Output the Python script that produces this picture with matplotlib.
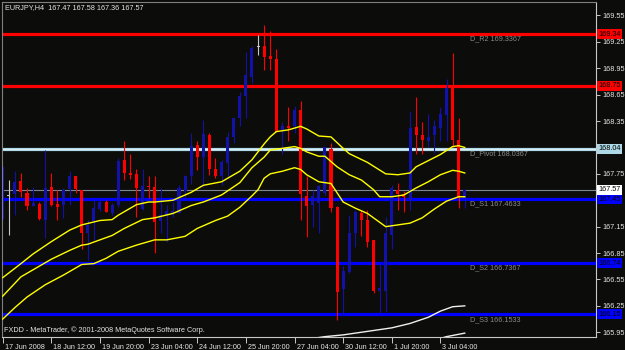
import numpy as np
import matplotlib
matplotlib.use('Agg')
import matplotlib.pyplot as plt
from matplotlib.transforms import ScaledTranslation, blended_transform_factory

plt.rcParams['font.family'] = ['Liberation Sans', 'DejaVu Sans']

# --- data (EURJPY H4) ---
opens = [167.26, 167.50, 167.52, 167.67, 167.53, 167.39, 167.41, 167.23, 167.60, 167.41,
         167.40, 167.58, 167.72, 167.57, 167.08, 167.21, 167.35, 167.43, 167.30, 167.40,
         167.91, 167.76, 167.75, 167.35, 167.61, 167.60, 167.21, 167.28, 167.31, 167.31,
         167.56, 167.72, 168.08, 167.94, 168.19, 167.81, 167.72, 167.87, 168.17, 168.38,
         168.63, 168.85, 169.19, 169.20, 169.09, 169.05, 168.25, 168.29, 168.29, 168.48,
         167.50, 167.40, 167.42, 167.53, 168.03, 167.37, 166.44, 166.64, 167.08, 167.30,
         167.23, 167.00, 166.42, 166.42, 167.06, 167.57, 167.52, 167.45, 168.28, 168.19,
         168.12, 168.19, 168.27, 168.42, 168.74, 168.13, 167.47]
highs = [167.84, 167.68, 167.78, 167.76, 167.59, 167.60, 167.43, 168.02, 167.76, 167.57,
         167.59, 167.78, 167.73, 167.57, 167.23, 167.45, 167.45, 167.45, 167.42, 167.93,
         168.12, 167.98, 167.81, 167.81, 167.73, 167.72, 167.59, 167.40, 167.43, 167.62,
         167.74, 168.21, 168.12, 168.36, 168.21, 167.93, 167.91, 168.23, 168.40, 168.68,
         169.14, 169.20, 169.33, 169.44, 169.37, 169.17, 168.34, 168.51, 168.52, 168.58,
         167.72, 167.57, 167.62, 168.07, 168.10, 167.38, 166.70, 167.28, 167.34, 167.34,
         167.34, 167.00, 166.72, 167.26, 167.62, 167.65, 167.55, 168.46, 168.62, 168.34,
         168.43, 168.36, 168.51, 168.83, 169.12, 168.39, 167.58]
lows = [167.24, 167.06, 167.28, 167.49, 167.34, 167.38, 167.23, 167.02, 167.38, 167.22,
        167.25, 167.40, 167.53, 166.90, 166.77, 167.00, 167.33, 167.32, 167.28, 167.37,
        167.68, 167.69, 167.26, 167.34, 167.47, 166.85, 167.08, 166.98, 167.26, 167.30,
        167.49, 167.64, 167.79, 167.60, 167.74, 167.70, 167.62, 167.70, 168.10, 168.29,
        168.38, 168.78, 169.10, 168.93, 168.93, 168.22, 167.98, 168.12, 168.21, 167.23,
        167.03, 167.15, 167.08, 167.51, 167.32, 166.09, 166.15, 166.62, 166.92, 167.04,
        166.92, 166.40, 166.17, 166.18, 166.90, 167.34, 167.32, 167.34, 167.98, 167.98,
        168.06, 167.99, 168.12, 168.12, 168.06, 167.36, 167.36]
closes = [167.82, 167.50, 167.66, 167.54, 167.39, 167.42, 167.24, 167.59, 167.40, 167.37,
          167.57, 167.73, 167.58, 167.08, 167.17, 167.36, 167.43, 167.32, 167.40, 167.90,
          167.76, 167.74, 167.59, 167.61, 167.60, 167.20, 167.28, 167.33, 167.33, 167.59,
          167.72, 168.07, 167.94, 168.20, 167.81, 167.72, 167.89, 168.17, 168.39, 168.64,
          168.87, 169.18, 169.19, 169.08, 169.06, 168.23, 168.29, 168.27, 168.48, 167.52,
          167.39, 167.50, 167.61, 168.06, 167.36, 166.41, 166.65, 167.08, 167.32, 167.23,
          166.98, 166.42, 166.45, 167.08, 167.59, 167.52, 167.49, 168.27, 168.19, 168.13,
          168.17, 168.29, 168.43, 168.72, 168.13, 167.47, 167.57]

# envelope lines (yellow): bar index, price
upper_idx = [0, 3, 5, 8, 11, 13, 16, 18, 19, 22, 24, 25, 28, 31, 33, 36, 39, 41, 43, 44, 45, 47,
             49, 50, 52, 54, 56, 57, 60, 63, 65, 67, 68, 70, 72, 74, 75, 76]
upper_val = [166.57, 166.73, 166.84, 166.98, 167.11, 167.17, 167.22, 167.23, 167.28, 167.40,
             167.43, 167.43, 167.45, 167.54, 167.62, 167.66, 167.78, 167.91, 168.09, 168.17,
             168.23, 168.25, 168.29, 168.26, 168.18, 168.17, 168.04, 167.98, 167.88, 167.75,
             167.74, 167.76, 167.83, 167.90, 167.97, 168.06, 168.07, 168.05]
middle_idx = [0, 3, 5, 8, 11, 13, 14, 16, 18, 20, 23, 25, 28, 31, 33, 36, 39, 41, 43, 44, 46, 48,
              49, 50, 52, 53, 55, 57, 59, 61, 62, 64, 66, 68, 70, 72, 74, 75, 76]
middle_val = [166.36, 166.58, 166.66, 166.78, 166.88, 166.94, 166.95, 167.00, 167.05, 167.13,
              167.23, 167.25, 167.30, 167.39, 167.43, 167.51, 167.65, 167.82, 167.94, 168.02,
              168.04, 168.06, 168.04, 168.00, 167.95, 167.95, 167.83, 167.74, 167.68, 167.57,
              167.49, 167.49, 167.51, 167.59, 167.66, 167.74, 167.79, 167.78, 167.76]
lower_idx = [0, 2, 4, 7, 10, 13, 15, 17, 19, 22, 24, 25, 27, 30, 32, 35, 37, 39, 41, 42, 43, 44,
             46, 48, 49, 50, 51, 52, 54, 56, 58, 60, 62, 63, 65, 67, 69, 71, 73, 75, 76]
lower_val = [166.10, 166.23, 166.35, 166.49, 166.60, 166.72, 166.73, 166.79, 166.87, 166.94,
             166.98, 167.00, 167.00, 167.04, 167.13, 167.22, 167.27, 167.37, 167.50, 167.57,
             167.70, 167.75, 167.78, 167.82, 167.80, 167.74, 167.70, 167.66, 167.64, 167.43,
             167.36, 167.30, 167.20, 167.15, 167.17, 167.19, 167.25, 167.35, 167.44, 167.49,
             167.49]

# white lines at the bottom right
white1_idx = [51, 53, 56, 60, 64, 67, 70, 72, 74, 76]
white1_val = [165.88, 165.90, 165.92, 165.96, 166.00, 166.05, 166.12, 166.19, 166.24, 166.25]
white2_idx = [72, 73, 76]
white2_val = [165.88, 165.90, 165.94]

# daily pivot levels
level_names = ['D_R2', 'D_R1', 'D_Pivot', 'D_S1', 'D_S2', 'D_S3']
level_values = [169.3367, 168.75, 168.0367, 167.4633, 166.7367, 166.1533]
level_boxes = ['169.34', '168.75', '168.04', '167.45', '166.74', '166.15']
level_text_shown = [True, False, True, True, True, True]
level_colors = ['#ff0000', '#ff0000', '#add8e6', '#0000ff', '#0000ff', '#0000ff']
bid_price = 167.57

xtick_idx = [0, 8, 16, 24, 32, 40, 48, 56, 64, 72]
xtick_labels = ['17 Jun 2008', '18 Jun 12:00', '19 Jun 20:00', '23 Jun 04:00', '24 Jun 12:00',
                '25 Jun 20:00', '27 Jun 04:00', '30 Jun 12:00', '1 Jul 20:00', '3 Jul 04:00']
ytick_vals = [165.95, 166.25, 166.55, 166.85, 167.15, 167.45, 167.75, 168.05, 168.35,
              168.65, 168.95, 169.25, 169.55]
ytick_hidden = [167.45, 168.05]  # covered by the level boxes in the terminal

bg = '#0c0c0a'
up_col = '#1212a8'
down_col = '#ff0000'
doji_col = '#c8c8c8'
fg = '#e6e6e6'
fs = 5.2

fig = plt.figure(figsize=(6.25, 3.5), dpi=100, facecolor=bg)
ax = fig.add_axes([2/625, 13/350, 594/625, 335/350])
ax.set_facecolor(bg)
ax.set_xlim(-0.115, 97.59)
ax.set_ylim(165.896, 169.703)

# levels first, candles on top of them
for v, c in zip(level_values, level_colors):
    ax.axhline(v, color=c, lw=2.3, zorder=1)
ax.axhline(level_values[2], color='#e4f2f8', lw=0.6, zorder=1.1)
ax.axhline(bid_price, color='#7a8896', lw=0.8, zorder=1)

idx = np.arange(len(opens))
o = np.array(opens); h = np.array(highs); l = np.array(lows); c = np.array(closes)
cols = [up_col if cc > oo else (down_col if cc < oo else doji_col) for oo, cc in zip(o, c)]
ax.vlines(idx, l, h, colors=cols, lw=0.8, zorder=2)
bottoms = np.minimum(o, c)
heights = np.maximum(np.abs(c - o), 0.012)
ax.bar(idx, heights, bottom=bottoms, width=0.5, color=cols, lw=0, zorder=2)

for xs, ys in [(upper_idx, upper_val), (middle_idx, middle_val), (lower_idx, lower_val)]:
    ax.plot(xs, ys, color='#ffff00', lw=1.0, zorder=3)
ax.plot(white1_idx, white1_val, color='#f0f0f0', lw=1.0, zorder=3)
ax.plot(white2_idx, white2_val, color='#f0f0f0', lw=1.0, zorder=3)

# level labels
for name, v, shown in zip(level_names, level_values, level_text_shown):
    if shown:
        ax.annotate(f'{name} {v:.4f}', xy=(76.9, v), xytext=(0, -5), textcoords='offset pixels',
                    color='#8a8a8a', fontsize=fs, ha='left', va='center', zorder=4)

# price boxes on the right scale
trans = blended_transform_factory(ax.transAxes, ax.transData)
for s, v, col in zip(level_boxes + ['167.57'], level_values + [bid_price], level_colors + ['#ffffff']):
    ax.text(1.004, v, s, transform=trans, ha='left', va='center', fontsize=fs, color='black',
            bbox=dict(boxstyle='square,pad=0.2', fc=col, ec='none'), zorder=6)

# axes
ax.yaxis.tick_right()
ax.set_yticks(ytick_vals)
ax.set_yticklabels(['' if v in ytick_hidden else f'{v:.2f}' for v in ytick_vals])
ax.tick_params(axis='y', colors='#c8c8c8', labelcolor=fg, labelsize=fs, length=3, width=0.7, pad=1.5)
ax.set_xticks(xtick_idx)
ax.set_xticklabels(xtick_labels, ha='left')
ax.tick_params(axis='x', colors='#c8c8c8', labelcolor=fg, labelsize=fs, length=4, width=0.7, pad=1)
for lbl in ax.get_xticklabels():
    lbl.set_transform(lbl.get_transform() + ScaledTranslation(2/100, 0, fig.dpi_scale_trans))
for side, col in [('left', '#808080'), ('top', '#808080'), ('right', '#c8c8c8'), ('bottom', '#c8c8c8')]:
    ax.spines[side].set_color(col)
    ax.spines[side].set_linewidth(0.8)

fig.text(5/625, 1 - 8/350, 'EURJPY,H4  167.47 167.58 167.36 167.57', color=fg, fontsize=fs, va='center')
fig.text(4/625, 1 - 330/350, 'FXDD - MetaTrader, \u00a9 2001-2008 MetaQuotes Software Corp.',
         color=fg, fontsize=fs, va='center')

fig.savefig('out.png', dpi=100, facecolor=bg)
